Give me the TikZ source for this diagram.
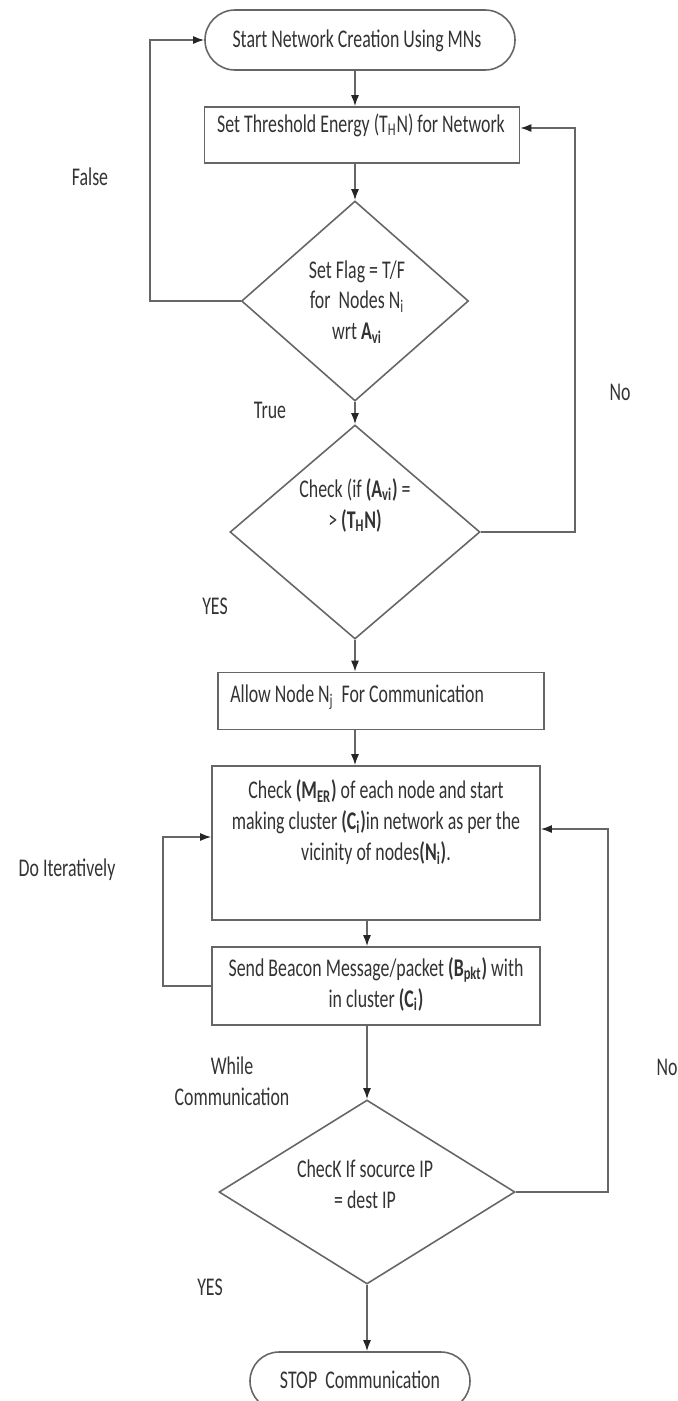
\documentclass[tikz,border=0pt]{standalone}
\usepackage{fontspec}
\setmainfont{Carlito}[FakeStretch=0.7]
\usetikzlibrary{shapes.geometric,shapes.misc,arrows.meta}

\begin{document}
\begin{tikzpicture}[x=0.2mm, y=-0.2mm,
        line/.style={draw=black!60, line width=0.9pt},
        arr/.style={line, -{Latex[length=2.2mm,width=1.6mm,color=black!85]}},
        procbox/.style={line, rectangle, inner sep=0pt},
        decision/.style={line, diamond, inner sep=0pt},
        terminal/.style={line, rounded rectangle, inner sep=0pt},
        txt/.style={text=black!80, font=\fontsize{14.5}{17.6}\selectfont, align=center, inner sep=0pt}]
        \useasboundingbox (0,0) rectangle (678,1401);

        % Start and threshold
        \node[terminal, minimum width=62mm, minimum height=12mm] (start) at (360,40) {};
        \node[txt] (starttxt) at (357,41) {Start Network Creation Using MNs};
        \node[procbox, minimum width=63mm, minimum height=11.2mm] (setthr) at (362,135) {};
        \node[txt] (setthrtxt) at (361,125) {Set Threshold Energy (T\textsubscript{H}N) for Network};

        % First decision - flag
        \node[decision, minimum width=45.4mm, minimum height=40mm] (flag) at (355,301) {};
        \node[txt] (flagtxt) at (357,302) {Set Flag = T/F\\for~ Nodes N\textsubscript{i}\\wrt \textbf{A\textsubscript{vi}}};

        % Second decision - energy check
        \node[decision, minimum width=50mm, minimum height=42.8mm] (chk) at (355,532) {};
        \node[txt] (chktxt) at (355,505) {Check (if \textbf{(A\textsubscript{vi})} =\\> \textbf{(T\textsubscript{H}N)}};

        % Allow node
        \node[procbox, minimum width=65.2mm, minimum height=11.4mm] (allow) at (381,701) {};
        \node[txt, anchor=west] (allowtxt) at (230,697) {Allow Node N\textsubscript{j}~ For Communication};

        % Cluster and beacon
        \node[procbox, minimum width=65.6mm, minimum height=30.8mm] (cluster) at (376,843) {};
        \node[txt] (clustertxt) at (376,822) {Check \textbf{(M\textsubscript{ER})} of each node and start\\making cluster \textbf{(C\textsubscript{i})}in network as per the\\vicinity of nodes\textbf{(N\textsubscript{i})}.};
        \node[procbox, minimum width=65.6mm, minimum height=15.6mm] (beacon) at (376,986) {};
        \node[txt] (beacontxt) at (376,984) {Send Beacon Message/packet \textbf{(B\textsubscript{pkt})} with\\in cluster \textbf{(C\textsubscript{i})}};

        % Third decision - IP check
        \node[decision, minimum width=59.2mm, minimum height=36.8mm] (ipchk) at (367,1192) {};
        \node[txt] (ipchktxt) at (365,1184) {ChecK If socurce IP\\= dest IP};

        % Stop
        \node[terminal, minimum width=44mm, minimum height=11.6mm] (stop) at (360,1381) {};
        \node[txt] (stoptxt) at (360,1380) {STOP~ Communication};

        % Main flow
        \draw[arr] (start.south -| flag.north) -- (setthr.north -| flag.north);
        \draw[arr] (setthr.south -| flag.north) -- (flag.north);
        \draw[arr] (flag.south) -- (chk.north);
        \draw[arr] (chk.south) -- (allow.north -| chk.south);
        \draw[arr] (allow.south -| chk.south) -- (cluster.north -| chk.south);
        \draw[arr] (cluster.south -| ipchk.north) -- (beacon.north -| ipchk.north);
        \draw[arr] (beacon.south -| ipchk.north) -- (ipchk.north);
        \draw[arr] (ipchk.south) -- (stop.north -| ipchk.south);

        % Loops back
        \coordinate (falsecorner) at (150,40);
        \draw[arr] (flag.west) -| (falsecorner) -- (start.west);
        \coordinate (nocorner) at (575,128);
        \draw[arr] (chk.east) -| (nocorner) -- (nocorner -| setthr.east);
        \coordinate (itercorner) at (163,837);
        \draw[arr] (beacon.west) -| (itercorner) -- (itercorner -| cluster.west);
        \coordinate (nocorner2) at (608,829);
        \draw[arr] (ipchk.east) -| (nocorner2) -- (nocorner2 -| cluster.east);

        % Branch labels
        \node[txt] (falselbl) at (90,177) {False};
        \node[txt] (truelbl) at (270,410) {True};
        \node[txt] (nolbl) at (620,392) {No};
        \node[txt] (yeslbl) at (215,606) {YES};
        \node[txt] (iterlbl) at (67,870) {Do Iteratively};
        \node[txt] (whilelbl) at (232,1081) {While\\Communication};
        \node[txt] (nolbl2) at (667,1067) {No};
        \node[txt] (yeslbl2) at (210,1287) {YES};
    \end{tikzpicture}
\end{document}
